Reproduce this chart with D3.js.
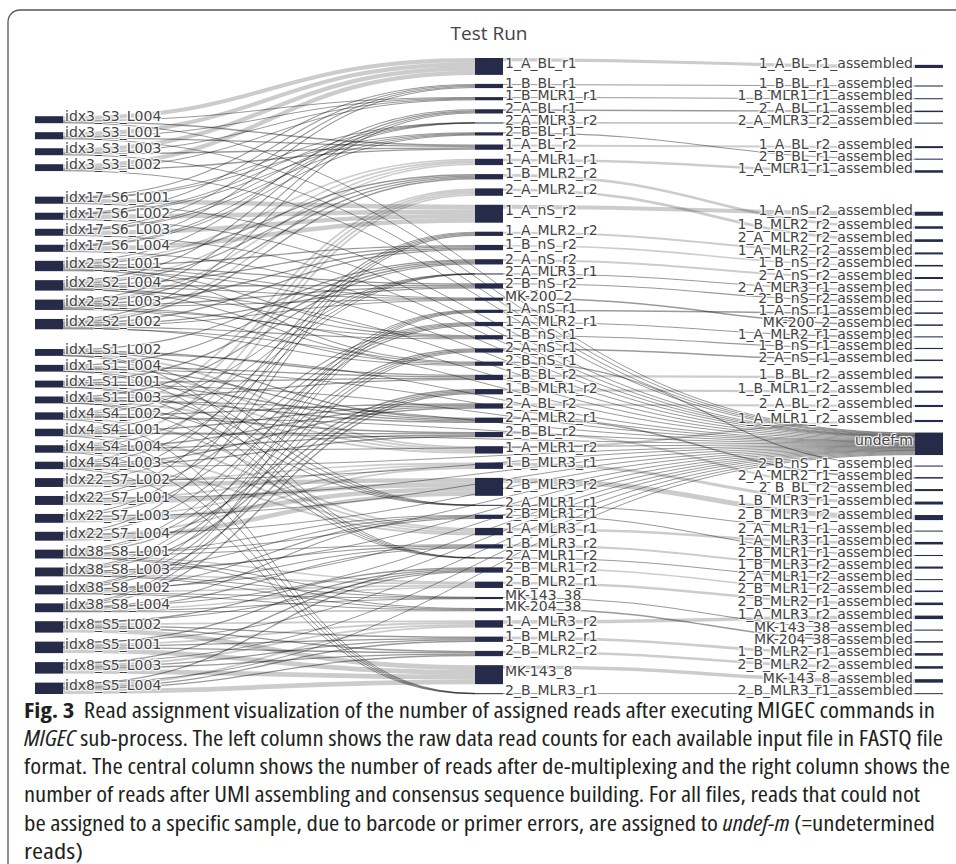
<!DOCTYPE html>
<html>
<head>
<meta charset="utf-8">
<script src="https://cdn.jsdelivr.net/npm/d3@7"></script>
<style>
body { margin: 0; background: #fff; }
.node-label {
  font-family: "DejaVu Sans", Verdana, sans-serif;
  font-size: 14px;
  fill: #444;
  text-shadow: 1px 1px 1px #fff, -1px -1px 1px #fff, 1px -1px 1px #fff, -1px 1px 1px #fff;
}
.caption {
  font-family: "Open Sans", "Liberation Sans Narrow", Roboto, sans-serif;
  font-stretch: 75%;
  font-size: 21px;
  fill: #231f20;
}
</style>
</head>
<body>
<svg id="chart" width="956" height="864"></svg>
<script>
// left column: raw FASTQ files, in the order they are stacked
var fileLabels = ["idx3_S3_L004","idx3_S3_L001","idx3_S3_L003","idx3_S3_L002",
  "idx17_S6_L001","idx17_S6_L002","idx17_S6_L003","idx17_S6_L004",
  "idx2_S2_L001","idx2_S2_L004","idx2_S2_L003","idx2_S2_L002",
  "idx1_S1_L002","idx1_S1_L004","idx1_S1_L001","idx1_S1_L003",
  "idx4_S4_L002","idx4_S4_L001","idx4_S4_L004","idx4_S4_L003",
  "idx22_S7_L002","idx22_S7_L001","idx22_S7_L003","idx22_S7_L004",
  "idx38_S8_L001","idx38_S8_L003","idx38_S8_L002","idx38_S8_L004",
  "idx8_S5_L002","idx8_S5_L001","idx8_S5_L003","idx8_S5_L004"];
// raw reads per file (thousands)
var fileReads = [66,67,66,65, 67,67,66,67, 98,99,98,98, 65,64,65,65,
  70,71,71,70, 84,85,84,84, 84,84,85,84, 108,109,109,108];
// reads per file that could not be assigned (-> undef-m)
var undefReads = [6,7,6,5, 5,4,5,5, 8,9,8,8, 6,5,6,6,
  7,6,7,6, 7,6,7,7, 7,7,6,7, 9,8,9,8];

// middle column: de-multiplexed samples
var sampleLabels = ["1_A_BL_r1","1_B_BL_r1","1_B_MLR1_r1","2_A_BL_r1","2_A_MLR3_r2","2_B_BL_r1",
  "1_A_BL_r2","1_A_MLR1_r1","1_B_MLR2_r2","2_A_MLR2_r2","1_A_nS_r2","1_A_MLR2_r2",
  "1_B_nS_r2","2_A_nS_r2","2_A_MLR3_r1","2_B_nS_r2","MK-200_2","1_A_nS_r1",
  "1_A_MLR2_r1","1_B_nS_r1","2_A_nS_r1","2_B_nS_r1","1_B_BL_r2","1_B_MLR1_r2",
  "2_A_BL_r2","2_A_MLR2_r1","2_B_BL_r2","1_A_MLR1_r2","1_B_MLR3_r1","2_B_MLR3_r2",
  "2_A_MLR1_r1","2_B_MLR1_r1","1_A_MLR3_r1","1_B_MLR3_r2","2_A_MLR1_r2","2_B_MLR1_r2",
  "2_B_MLR2_r1","MK-143_38","MK-204_38","1_A_MLR3_r2","1_B_MLR2_r1","2_B_MLR2_r2",
  "MK-143_8","2_B_MLR3_r1"];
// index group each sample was de-multiplexed from
var sampleIndex = ["idx3","idx17","idx3","idx2","idx17","idx17",
  "idx3","idx2","idx2","idx4","idx17","idx22",
  "idx2","idx1","idx4","idx2","idx2","idx38",
  "idx22","idx2","idx38","idx2","idx1","idx38",
  "idx4","idx1","idx4","idx1","idx22","idx22",
  "idx1","idx38","idx4","idx38","idx1","idx8",
  "idx38","idx38","idx38","idx8","idx8","idx8",
  "idx8","idx4"];
// de-multiplexed reads per sample (thousands)
var sampleReads = [160,40,30,40,8,30, 50,60,50,70,170,40, 50,50,8,50,30,30,
  40,40,40,40,50,50, 50,50,50,70,60,170, 8,40,70,40,8,50, 60,20,30,70,50,50, 180,8];

// right column: assembled samples plus undetermined reads
var assembledLabels = ["1_A_BL_r1_assembled","1_B_BL_r1_assembled","1_B_MLR1_r1_assembled",
  "2_A_BL_r1_assembled","2_A_MLR3_r2_assembled","1_A_BL_r2_assembled","2_B_BL_r1_assembled",
  "1_A_MLR1_r1_assembled","1_A_nS_r2_assembled","1_B_MLR2_r2_assembled","2_A_MLR2_r2_assembled",
  "1_A_MLR2_r2_assembled","1_B_nS_r2_assembled","2_A_nS_r2_assembled","2_A_MLR3_r1_assembled",
  "2_B_nS_r2_assembled","1_A_nS_r1_assembled","MK-200_2_assembled","1_A_MLR2_r1_assembled",
  "1_B_nS_r1_assembled","2_A_nS_r1_assembled","1_B_BL_r2_assembled","1_B_MLR1_r2_assembled",
  "2_A_BL_r2_assembled","1_A_MLR1_r2_assembled","undef-m","2_B_nS_r1_assembled",
  "2_A_MLR2_r1_assembled","2_B_BL_r2_assembled","1_B_MLR3_r1_assembled","2_B_MLR3_r2_assembled",
  "2_A_MLR1_r1_assembled","1_A_MLR3_r1_assembled","2_B_MLR1_r1_assembled","1_B_MLR3_r2_assembled",
  "2_A_MLR1_r2_assembled","2_B_MLR1_r2_assembled","2_B_MLR2_r1_assembled","1_A_MLR3_r2_assembled",
  "MK-143_38_assembled","MK-204_38_assembled","1_B_MLR2_r1_assembled","2_B_MLR2_r2_assembled",
  "MK-143_8_assembled","2_B_MLR3_r1_assembled"];
// assembled reads (thousands), same order as assembledLabels with undef-m skipped
var assembledReads = [30,10,9,14,8,19,10,24,38,24,25,19,15,19,8,10,14,14,10,11,14,20,21,20,20,
  10,14,19,28,48,8,24,10,20,8,15,24,33,10,14,24,24,33,8];

var captionLines = [
  [["Fig. 3", "bold"], ["Read assignment visualization of the number of assigned reads after executing MIGEC commands in", "", 8]],
  [["MIGEC", "italic"], [" sub-process. The left column shows the raw data read counts for each available input file in FASTQ file", ""]],
  [["format. The central column shows the number of reads after de-multiplexing and the right column shows the", ""]],
  [["number of reads after UMI assembling and consensus sequence building. For all files, reads that could not", ""]],
  [["be assigned to a specific sample, due to barcode or primer errors, are assigned to ", ""], ["undef-m", "italic"], [" (=undetermined", ""]],
  [["reads)", ""]]
];
var captionEnds = [935, 943, 950, 920, 935, 83];

var svg = d3.select("#chart");
var yTop = 58, yBottom = 694;
var nodeWidth = 28;
var colPad = [9, 9, 10.5];
var colX = d3.scalePoint().domain([0, 1, 2]).range([35, 915]);

// frame
svg.append("rect")
  .attr("x", 8).attr("y", 10)
  .attr("width", 970).attr("height", 866)
  .attr("rx", 12)
  .attr("fill", "#fff")
  .attr("stroke", "#555").attr("stroke-width", 1.3);

//Build nodes and links
var nodes = [], byName = {}, links = [];
function addNode(name, col) {
  var n = {name: name, col: col, sourceLinks: [], targetLinks: []};
  nodes.push(n);
  byName[name] = n;
}
function addLink(s, t, v) {
  var l = {source: byName[s], target: byName[t], value: v};
  links.push(l);
  l.source.sourceLinks.push(l);
  l.target.targetLinks.push(l);
}
fileLabels.forEach(function(l) { addNode(l, 0); });
sampleLabels.forEach(function(l) { addNode(l, 1); });
assembledLabels.forEach(function(l) { addNode(l, 2); });

var groupOf = function(l) { return l.split("_")[0]; };
var groupSamples = d3.rollup(sampleLabels.map(function(l, j) { return {g: sampleIndex[j], v: sampleReads[j]}; }),
  function(v) { return d3.sum(v, function(d) { return d.v; }); }, function(d) { return d.g; });

fileLabels.forEach(function(f, i) {
  var g = groupOf(f);
  var assigned = fileReads[i] - undefReads[i];
  sampleLabels.forEach(function(s, j) {
    if (sampleIndex[j] === g) addLink(f, s, assigned * sampleReads[j] / groupSamples.get(g));
  });
});
fileLabels.forEach(function(f, i) { addLink(f, "undef-m", undefReads[i]); });
assembledLabels.filter(function(l) { return l !== "undef-m"; }).forEach(function(l, k) {
  addLink(l.replace("_assembled", ""), l, assembledReads[k]);
});

nodes.forEach(function(n) {
  n.value = Math.max(d3.sum(n.sourceLinks, function(l) { return l.value; }),
                     d3.sum(n.targetLinks, function(l) { return l.value; }));
});

var columns = [0, 1, 2].map(function(c) { return nodes.filter(function(n) { return n.col === c; }); });
var ky = d3.min(columns, function(col, c) {
  return (yBottom - yTop - (col.length - 1) * colPad[c]) / d3.sum(col, function(n) { return n.value; });
});
var hScale = d3.scaleLinear().domain([0, 1]).range([0, ky]);

// initial stacking
columns.forEach(function(col, c) {
  var y = yTop;
  col.forEach(function(n) {
    n.x0 = colX(n.col);
    n.x1 = n.x0 + nodeWidth;
    n.y0 = y;
    n.y1 = y + hScale(n.value);
    y = n.y1 + colPad[c];
  });
});

function mid(n) { return (n.y0 + n.y1) / 2; }

//push overlapping nodes apart, keeping the given order
function resolve(col, pad) {
  var y = yTop;
  col.forEach(function(n) {
    var dy = y - n.y0;
    if (dy > 0) { n.y0 += dy; n.y1 += dy; }
    y = n.y1 + pad;
  });
  if (y - pad > yBottom) {
    y = yBottom;
    for (var i = col.length - 1; i >= 0; i--) {
      var n = col[i];
      var d = n.y1 - y;
      if (d > 0) { n.y0 -= d; n.y1 -= d; }
      y = n.y0 - pad;
    }
  }
}

//move nodes toward the weighted centre of the nodes they link to
function relax(c, useTargets, alpha) {
  var col = columns[c];
  col.forEach(function(n) {
    var ls = useTargets ? n.sourceLinks : n.targetLinks;
    if (!ls.length) return;
    var target = d3.sum(ls, function(l) { return mid(useTargets ? l.target : l.source) * l.value; }) /
                 d3.sum(ls, function(l) { return l.value; });
    var dy = (target - mid(n)) * alpha;
    n.y0 += dy;
    n.y1 += dy;
  });
  resolve(col, colPad[c]);
}

for (var k = 0, alpha = 1; k < 32; k++) {
  alpha *= 0.99;
  relax(0, true, alpha);
  relax(2, false, alpha);
}

links.forEach(function(l) { l.width = hScale(l.value); });
nodes.forEach(function(n) {
  n.sourceLinks.sort(function(a, b) { return a.target.y0 - b.target.y0; });
  n.targetLinks.sort(function(a, b) { return a.source.y0 - b.source.y0; });
  var y = n.y0;
  n.sourceLinks.forEach(function(l) { l.y0 = y + l.width / 2; y += l.width; });
  y = n.y0;
  n.targetLinks.forEach(function(l) { l.y1 = y + l.width / 2; y += l.width; });
});

// links
var linkPath = d3.linkHorizontal()
  .source(function(d) { return [d.source.x1, d.y0]; })
  .target(function(d) { return [d.target.x0, d.y1]; });

svg.append("g")
  .attr("fill", "none")
  .selectAll("path")
  .data(links.slice().sort(function(a, b) { return b.width - a.width; }))
  .join("path")
  .attr("d", linkPath)
  .attr("stroke", "#000")
  .attr("stroke-opacity", function(d) { return d.width < 1.5 ? 0.4 : 0.2; })
  .attr("stroke-width", function(d) { return Math.max(1, d.width); });

// nodes
svg.append("g")
  .selectAll("rect")
  .data(nodes)
  .join("rect")
  .attr("x", function(d) { return d.x0; })
  .attr("y", function(d) { return d.y0; })
  .attr("width", nodeWidth)
  .attr("height", function(d) { return Math.max(1, d.y1 - d.y0); })
  .attr("fill", "#262b4a");

// labels
svg.append("g")
  .selectAll("text")
  .data(nodes)
  .join("text")
  .attr("class", "node-label")
  .attr("x", function(d) { return d.col === 2 ? d.x0 - 2 : d.x1 + 2; })
  .attr("y", function(d) { return mid(d); })
  .attr("dy", "0.12em")
  .attr("text-anchor", function(d) { return d.col === 2 ? "end" : "start"; })
  .text(function(d) { return d.name; });

// title
svg.append("text")
  .attr("x", (colX(0) + colX(2) + nodeWidth) / 2)
  .attr("y", 40)
  .attr("text-anchor", "middle")
  .style("font-family", "'Open Sans', sans-serif")
  .style("font-size", "19px")
  .style("fill", "#444")
  .text("Test Run");

// caption
var cap = svg.append("g").attr("class", "caption");
captionLines.forEach(function(line, i) {
  var t = cap.append("text")
    .attr("x", 24)
    .attr("y", 717.5 + i * 28.3)
    .attr("textLength", captionEnds[i] - 24)
    .attr("lengthAdjust", "spacingAndGlyphs");
  line.forEach(function(seg) {
    var ts = t.append("tspan").text(seg[0]);
    if (seg[1] === "bold") ts.style("font-weight", "bold");
    if (seg[1] === "italic") ts.style("font-style", "italic");
    if (seg[2]) ts.attr("dx", seg[2]);
  });
});
</script>
</body>
</html>
